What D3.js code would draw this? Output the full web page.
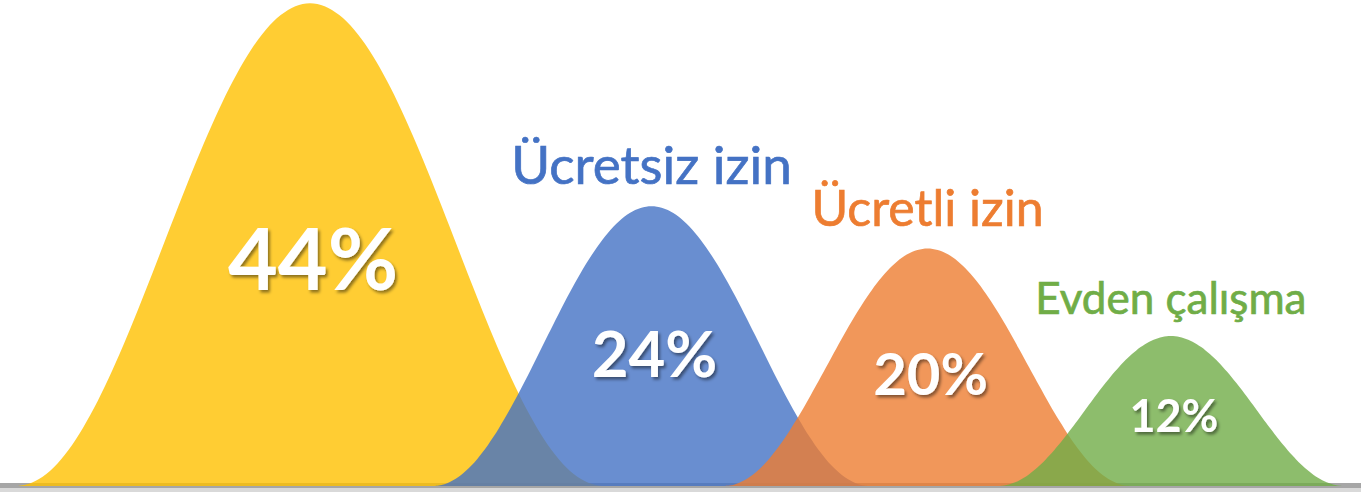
<!DOCTYPE html>
<html>
<head>
<meta charset="utf-8">
<script src="https://cdn.jsdelivr.net/npm/d3@7"></script>
<style>
html, body { margin: 0; padding: 0; background: #fff; }
svg { display: block; }
.title { font-family: Lato, 'Open Sans', sans-serif; font-weight: 400; }
.pct { font-family: Lato, 'Open Sans', sans-serif; font-weight: 700; fill: #fff; }
</style>
</head>
<body>
<div id="chart"></div>
<script>
'use strict';

let categories = ['', 'Ücretsiz izin', 'Ücretli izin', 'Evden çalışma'];
let values = [44, 24, 20, 12];
let valueLabels = ['44%', '24%', '20%', '12%'];
let colors = ['#FFC000', '#4472C4', '#ED7D31', '#70AD47'];

const W = 1361;
const H = 492;
const base = 486;

// peak height, half width and label sizes all follow the value
let peak = d3.scalePow().exponent(0.9).domain([0, 44]).range([0, 483]);
let halfW = d3.scaleLinear().domain([0, 44]).range([128, 293]);
let pctSize = d3.scaleSqrt().domain([0, 44]).range([0, 86]);
let titleSize = d3.scaleLinear().domain([12, 24]).range([44, 53]);

// bells overlap: gap between centres grows with the two half widths
let centers = [];
let cx = 17 + halfW(values[0]);
for (let i=0 ; i<values.length ; ++i) {
	if (i > 0) {
		cx += 0.727*(halfW(values[i-1]) + halfW(values[i])) - 30;
	}
	centers.push(cx);
}

let svg = d3.select('#chart')
	.append('svg')
		.attr('width', W)
		.attr('height', H)
	;

let f = svg.append('defs')
	.append('filter')
		.attr('id', 'shadow')
		.attr('x', '-20%').attr('y', '-20%').attr('width', '140%').attr('height', '150%')
	;
f.append('feDropShadow')
	.attr('dx', 2).attr('dy', 2.5).attr('stdDeviation', 1.6)
	.attr('flood-color', '#000').attr('flood-opacity', 0.45);

// floor line
svg.append('rect').attr('x', 0).attr('y', 483).attr('width', W).attr('height', 5).attr('fill', '#A6A6A6');
svg.append('rect').attr('x', 0).attr('y', 488).attr('width', W).attr('height', 4).attr('fill', '#D9D9D9');

let us = d3.range(-1, 1.0001, 0.025);
let bells = svg.append('g').classed('bells', true);

for (let i=0 ; i<values.length ; ++i) {
	let x = d3.scaleLinear().domain([-1, 1]).range([centers[i] - halfW(values[i]), centers[i] + halfW(values[i])]);
	let y = d3.scaleLinear().domain([0, 1]).range([base, base - peak(values[i])]);
	let area = d3.area()
		.x(u => x(u))
		.y0(base)
		.y1(u => y((1 + Math.cos(Math.PI*u))/2))
		.curve(d3.curveBasis)
		;
	bells.append('path')
		.attr('d', area(us))
		.attr('fill', colors[i])
		.attr('fill-opacity', 0.8)
		;
}

let labels = svg.append('g').classed('labels', true);
for (let i=0 ; i<values.length ; ++i) {
	let h = peak(values[i]);
	let fs = pctSize(values[i]);
	labels.append('text')
		.classed('pct', true)
		.attr('x', centers[i] + 3)
		.attr('y', base - 0.47*h + 0.36*fs)
		.attr('text-anchor', 'middle')
		.attr('font-size', fs)
		.attr('filter', 'url(#shadow)')
		.text(valueLabels[i])
		;
	if (categories[i]) {
		labels.append('text')
			.classed('title', true)
			.attr('x', centers[i])
			.attr('y', base - h - 22)
			.attr('text-anchor', 'middle')
			.attr('font-size', titleSize(values[i]))
			.attr('fill', colors[i])
			.attr('stroke', colors[i])
			.attr('stroke-width', 0.7)
			.text(categories[i])
			;
	}
}
</script>
</body>
</html>
